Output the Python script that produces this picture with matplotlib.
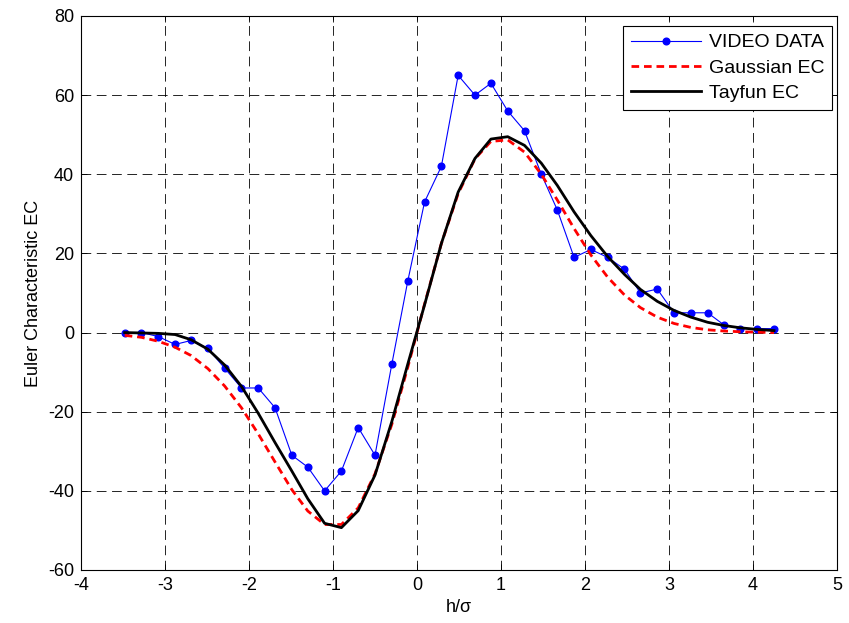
import numpy as np
import matplotlib
matplotlib.use("Agg")
import matplotlib.pyplot as plt

plt.rcParams['font.family'] = ['Liberation Sans', 'DejaVu Sans']
plt.rcParams['lines.scale_dashes'] = False
plt.rcParams['axes.unicode_minus'] = False

h = [-3.48, -3.28, -3.08, -2.88, -2.69, -2.49, -2.29, -2.09, -1.89, -1.69,
     -1.49, -1.30, -1.10, -0.90, -0.70, -0.50, -0.30, -0.11, 0.09, 0.29,
     0.49, 0.69, 0.88, 1.08, 1.28, 1.48, 1.67, 1.87, 2.07, 2.27,
     2.47, 2.66, 2.86, 3.06, 3.26, 3.46, 3.65, 3.85, 4.05, 4.25]

video_ec = [0, 0, -1, -3, -2, -4, -9, -14, -14, -19,
            -31, -34, -40, -35, -24, -31, -8, 13, 33, 42,
            65, 60, 63, 56, 51, 40, 31, 19, 21, 19,
            16, 10, 11, 5, 5, 5, 2, 1, 1, 1]

gauss_ec = [-0.7, -1.2, -2.2, -3.7, -5.8, -9.1, -13.5, -19.0, -25.6, -32.7,
            -39.7, -45.1, -48.5, -48.5, -44.3, -35.7, -23.2, -8.8, 7.2, 22.5,
            35.1, 43.9, 48.3, 48.7, 45.6, 40.0, 33.5, 26.3, 19.6, 14.0,
            9.5, 6.3, 3.9, 2.3, 1.3, 0.7, 0.4, 0.2, 0.1, 0.0]

tayfun_ec = [0.0, -0.1, -0.2, -0.5, -1.8, -4.2, -8.2, -13.6, -20.4, -27.8,
             -35.0, -42.0, -48.2, -49.3, -45.0, -36.0, -22.5, -8.0, 7.0, 22.5,
             35.5, 44.0, 48.9, 49.5, 47.3, 42.8, 37.2, 30.5, 24.5, 19.2,
             14.7, 10.9, 7.9, 5.6, 3.9, 2.6, 1.8, 1.2, 0.8, 0.5]

fig = plt.figure(figsize=(8.49, 6.23), dpi=100)
ax = fig.add_axes([81 / 849, 1 - 570 / 623, 756 / 849, 554 / 623])

ax.plot(h, video_ec, color='blue', marker='o', markersize=4.8, linewidth=0.8,
        label='VIDEO DATA')
ax.plot(h, gauss_ec, color='red', linestyle=(0, (5.5, 3.5)), linewidth=2,
        label='Gaussian EC')
ax.plot(h, tayfun_ec, color='black', linewidth=2, label='Tayfun EC')

ax.set_xlim(-4, 5)
ax.set_ylim(-60, 80)
ax.set_xticks(range(-4, 6))
ax.set_yticks(range(-60, 81, 20))
ax.grid(True, color='black', linestyle=(0, (7, 4)), linewidth=0.6)
ax.tick_params(direction='in', top=True, right=True, labelsize=13,
               length=4, width=0.6, pad=5)
for s in ax.spines.values():
    s.set_linewidth(0.8)

ax.set_xlabel('h/σ', fontsize=13)
ax.set_ylabel('Euler Characteristic EC', fontsize=13)

leg = ax.legend(loc='upper right', fontsize=14, handlelength=3.6,
                handletextpad=0.4, fancybox=False, framealpha=1,
                edgecolor='black', borderaxespad=0, labelspacing=0.4,
                borderpad=0.4,
                bbox_to_anchor=(832 / 849, 1 - 26 / 623),
                bbox_transform=fig.transFigure)
leg.get_frame().set_linewidth(0.8)

fig.savefig('out.png', dpi=100)
